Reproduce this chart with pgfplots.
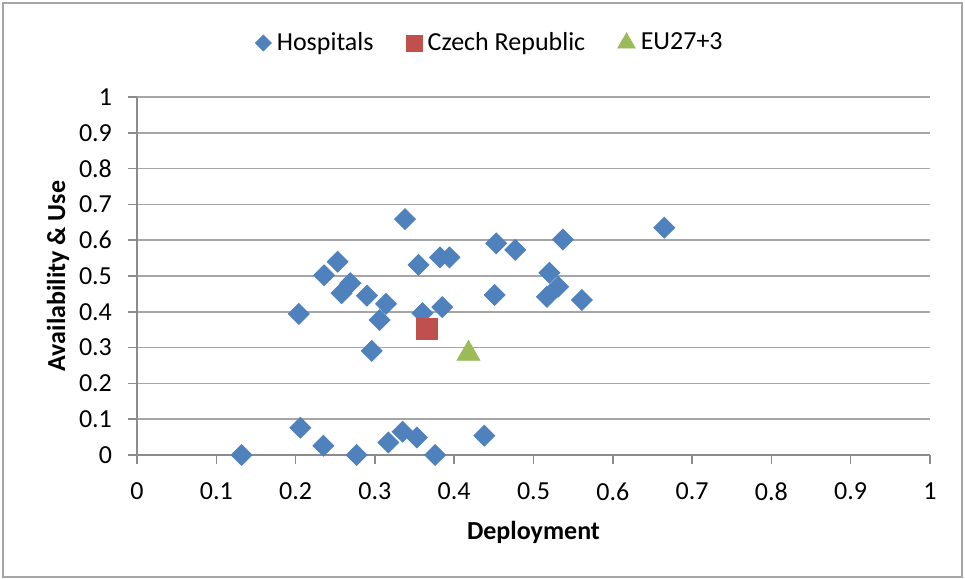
\documentclass[border=0pt]{standalone}
\usepackage{fontspec}
\setmainfont{Carlito}
\usepackage{pgfplots}
\pgfplotsset{compat=1.18}
\definecolor{hospblue}{HTML}{4F81BD}
\definecolor{czred}{HTML}{C0504D}
\definecolor{eugreen}{HTML}{9BBB59}
\definecolor{gridgray}{HTML}{A6A6A6}
\definecolor{axisgray}{HTML}{8C8C8C}
% smaller marker in the legend than in the plot
\pgfplotsset{
    smallmark/.style={legend image code/.code={%
        \draw[mark repeat=2,mark phase=2,##1,mark size=#1]
            plot coordinates {(0pt,0pt)(4pt,0pt)(8pt,0pt)};}},
}
\begin{document}
\fontsize{13}{15.6}\selectfont
\begin{tikzpicture}
\useasboundingbox (-68.5pt,-62pt) rectangle (414pt,227.5pt);
\draw[gridgray, line width=0.8pt] (-67pt,-61pt) rectangle (412.5pt,226pt);
\begin{axis}[
    scale only axis,
    width=396.5pt,
    height=179pt,
    xmin=0, xmax=1,
    ymin=0, ymax=1,
    clip=false,
    axis x line*=bottom,
    axis y line*=left,
    axis line style={axisgray, line width=0.75pt},
    xtick={0,0.1,...,1},
    ytick={0,0.1,...,1},
    tick align=outside,
    major tick length=4.5pt,
    tick style={axisgray, line width=0.75pt},
    ymajorgrids,
    grid style={gridgray, line width=0.75pt},
    /pgf/number format/assume math mode=true,
    /pgf/number format/fixed,
    yticklabel style={xshift=-3.5pt},
    xticklabel style={yshift=-5pt},
    xlabel={Deployment},
    ylabel={Availability \& Use},
    xlabel style={font=\bfseries, at={(axis description cs:0.5,-0.215)}, anchor=center},
    ylabel style={font=\bfseries, at={(axis description cs:-0.0996,0.5)}, anchor=center},
    legend columns=3,
    legend style={at={(axis description cs:0.1488,1.1508)}, anchor=west,
        draw=none, fill=none, inner sep=0pt,
        nodes={inner sep=2.8pt},
        /tikz/every odd column/.append style={column sep=0pt},
        /tikz/every even column/.append style={column sep=13.5pt}},
]
\addplot[only marks, color=hospblue, mark=square*, mark size=3.7pt,
    mark options={rotate=45}, smallmark=2.8pt]
coordinates {
    (0.132,0.000) (0.206,0.076) (0.235,0.026) (0.277,0.000) (0.317,0.035)
    (0.335,0.065) (0.353,0.049) (0.376,0.000) (0.438,0.054)
    (0.338,0.659) (0.253,0.540) (0.236,0.502) (0.269,0.480) (0.258,0.452)
    (0.290,0.445) (0.314,0.422) (0.306,0.377) (0.204,0.394) (0.296,0.291)
    (0.355,0.531) (0.360,0.396) (0.382,0.552) (0.394,0.552) (0.385,0.413)
    (0.453,0.591) (0.477,0.573) (0.537,0.602) (0.451,0.447) (0.520,0.509)
    (0.531,0.470) (0.517,0.442) (0.561,0.433) (0.665,0.635)
};
\addlegendentry{Hospitals}
\addplot[only marks, color=czred, mark=square*, mark size=5.2pt, smallmark=4pt]
coordinates {(0.366,0.353)};
\addlegendentry{Czech Republic}
\addplot[only marks, color=eugreen, mark=triangle*, mark size=6.6pt, smallmark=5pt]
coordinates {(0.418,0.283)};
\addlegendentry{EU27+3}
\end{axis}
\end{tikzpicture}
\end{document}
